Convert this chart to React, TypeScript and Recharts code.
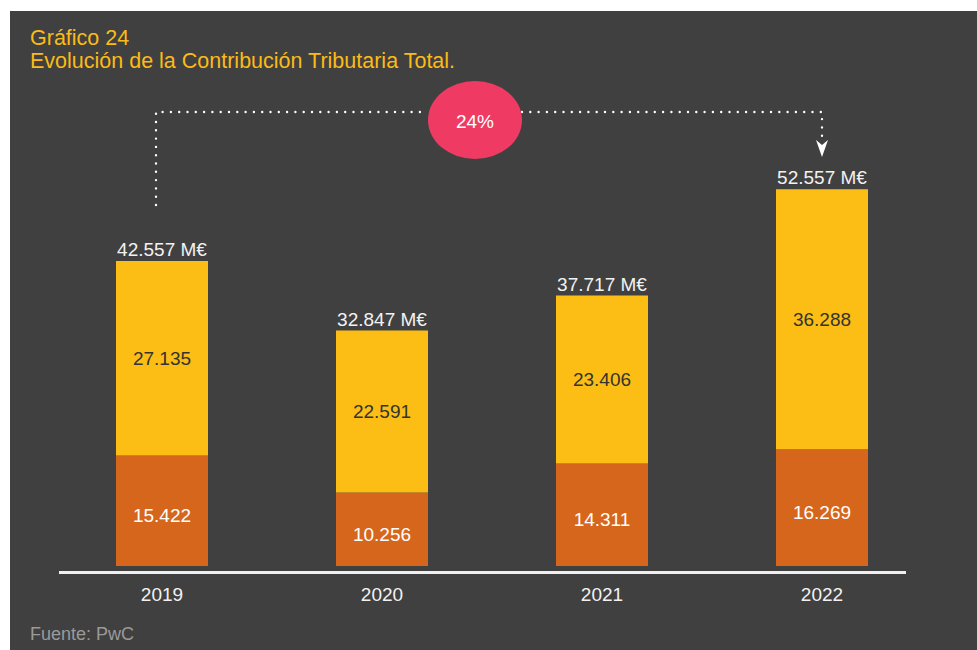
import { Bar, BarChart, LabelList, XAxis, YAxis } from 'recharts';

const YEARS = ['2019', '2020', '2021', '2022'];
const SOPORTADOS = [15422, 10256, 14311, 16269];
const RECAUDADOS = [27135, 22591, 23406, 36288];
const TOTALS = [42557, 32847, 37717, 52557];
const GROWTH_LABEL = '24%';

const FONT = '"Liberation Sans", Arial, Helvetica, sans-serif';
const PANEL_BG = '#404040';
const TITLE_COLOR = '#fbbb16';
const YELLOW = '#fcbe14';
const ORANGE = '#d7661d';
const PINK = '#ef3b64';
const LABEL_SIZE = 19;
const Y_MAX = 65000;

const data = YEARS.map((year, i) => ({
	year,
	soportados: SOPORTADOS[i],
	recaudados: RECAUDADOS[i],
	total: TOTALS[i],
}));

const fmt = (v: number) => String(v).replace(/\B(?=(\d{3})+(?!\d))/g, '.');

function box(props: any) {
	const vb = props.viewBox ?? props;
	return {
		x: Number(props.x ?? vb.x),
		y: Number(props.y ?? vb.y),
		width: Number(props.width ?? vb.width),
		height: Number(props.height ?? vb.height),
	};
}

const innerLabel = (color: string, dy: number) => (props: any) => {
	const { x, y, width, height } = box(props);
	return (
		<text
			x={x + width / 2}
			y={y + height / 2 + dy}
			textAnchor="middle"
			dominantBaseline="central"
			fill={color}
			fontSize={LABEL_SIZE}
			fontFamily={FONT}
		>
			{fmt(Number(props.value))}
		</text>
	);
};

const totalLabel = (props: any) => {
	const { x, y, width } = box(props);
	return (
		<text
			x={x + width / 2}
			y={y - 5}
			textAnchor="middle"
			fill="#f2f2f2"
			fontSize={LABEL_SIZE}
			fontFamily={FONT}
		>
			{`${fmt(Number(props.value))} M€`}
		</text>
	);
};

function YearTick(props: any) {
	const { x, y, payload } = props;
	return (
		<text
			x={x}
			y={y + 20}
			textAnchor="middle"
			dominantBaseline="central"
			fill="#f2f2f2"
			fontSize={LABEL_SIZE}
			fontFamily={FONT}
		>
			{payload.value}
		</text>
	);
}

export default function App() {
	return (
		<div
			style={{
				position: 'absolute',
				left: 0,
				top: 0,
				width: 977,
				height: 650,
				background: '#ffffff',
				fontFamily: FONT,
				overflow: 'hidden',
			}}
		>
			<div style={{ position: 'absolute', left: 10, top: 11, right: 0, bottom: 0, background: PANEL_BG }} />
			<div
				style={{
					position: 'absolute',
					left: 30,
					top: 27,
					color: TITLE_COLOR,
					fontSize: 21.5,
					lineHeight: '23px',
				}}
			>
				<div>Gráfico 24</div>
				<div>Evolución de la Contribución Tributaria Total.</div>
			</div>
			<div
				style={{
					position: 'absolute',
					left: 30,
					top: 623,
					color: '#9a9a9a',
					fontSize: 18,
					lineHeight: '22px',
				}}
			>
				Fuente: PwC
			</div>
			<div style={{ position: 'absolute', left: 59, top: 571, width: 847, height: 2.5, background: '#f0f0f0' }} />
			<div style={{ position: 'absolute', left: 0, top: 0 }}>
				<BarChart
					width={977}
					height={650}
					data={data}
					margin={{ top: 100, right: 45, bottom: 54, left: 52 }}
					barSize={92}
				>
					<XAxis dataKey="year" axisLine={false} tickLine={false} height={30} tick={<YearTick />} />
					<YAxis hide domain={[0, Y_MAX]} />
					<Bar dataKey="soportados" stackId="a" fill={ORANGE} isAnimationActive={false}>
						<LabelList dataKey="soportados" content={innerLabel('#ffffff', 5)} />
					</Bar>
					<Bar dataKey="recaudados" stackId="a" fill={YELLOW} isAnimationActive={false}>
						<LabelList dataKey="recaudados" content={innerLabel('#333333', 0)} />
						<LabelList dataKey="total" content={totalLabel} />
					</Bar>
				</BarChart>
			</div>
			<svg
				width={977}
				height={650}
				style={{ position: 'absolute', left: 0, top: 0, pointerEvents: 'none' }}
			>
				<path
					d="M156 205 L156 112 L428 112 M522 112 L822 112 L822 137"
					fill="none"
					stroke="#ffffff"
					strokeWidth={2.4}
					strokeLinecap="round"
					strokeDasharray="0 8.3"
				/>
				<path d="M816 140 L822 145 L828 140 L822 157 Z" fill="#ffffff" />
				<ellipse cx={475} cy={120} rx={47} ry={39} fill={PINK} />
				<text
					x={475}
					y={121}
					textAnchor="middle"
					dominantBaseline="central"
					fill="#ffffff"
					fontSize={LABEL_SIZE}
					fontFamily={FONT}
				>
					{GROWTH_LABEL}
				</text>
			</svg>
		</div>
	);
}
